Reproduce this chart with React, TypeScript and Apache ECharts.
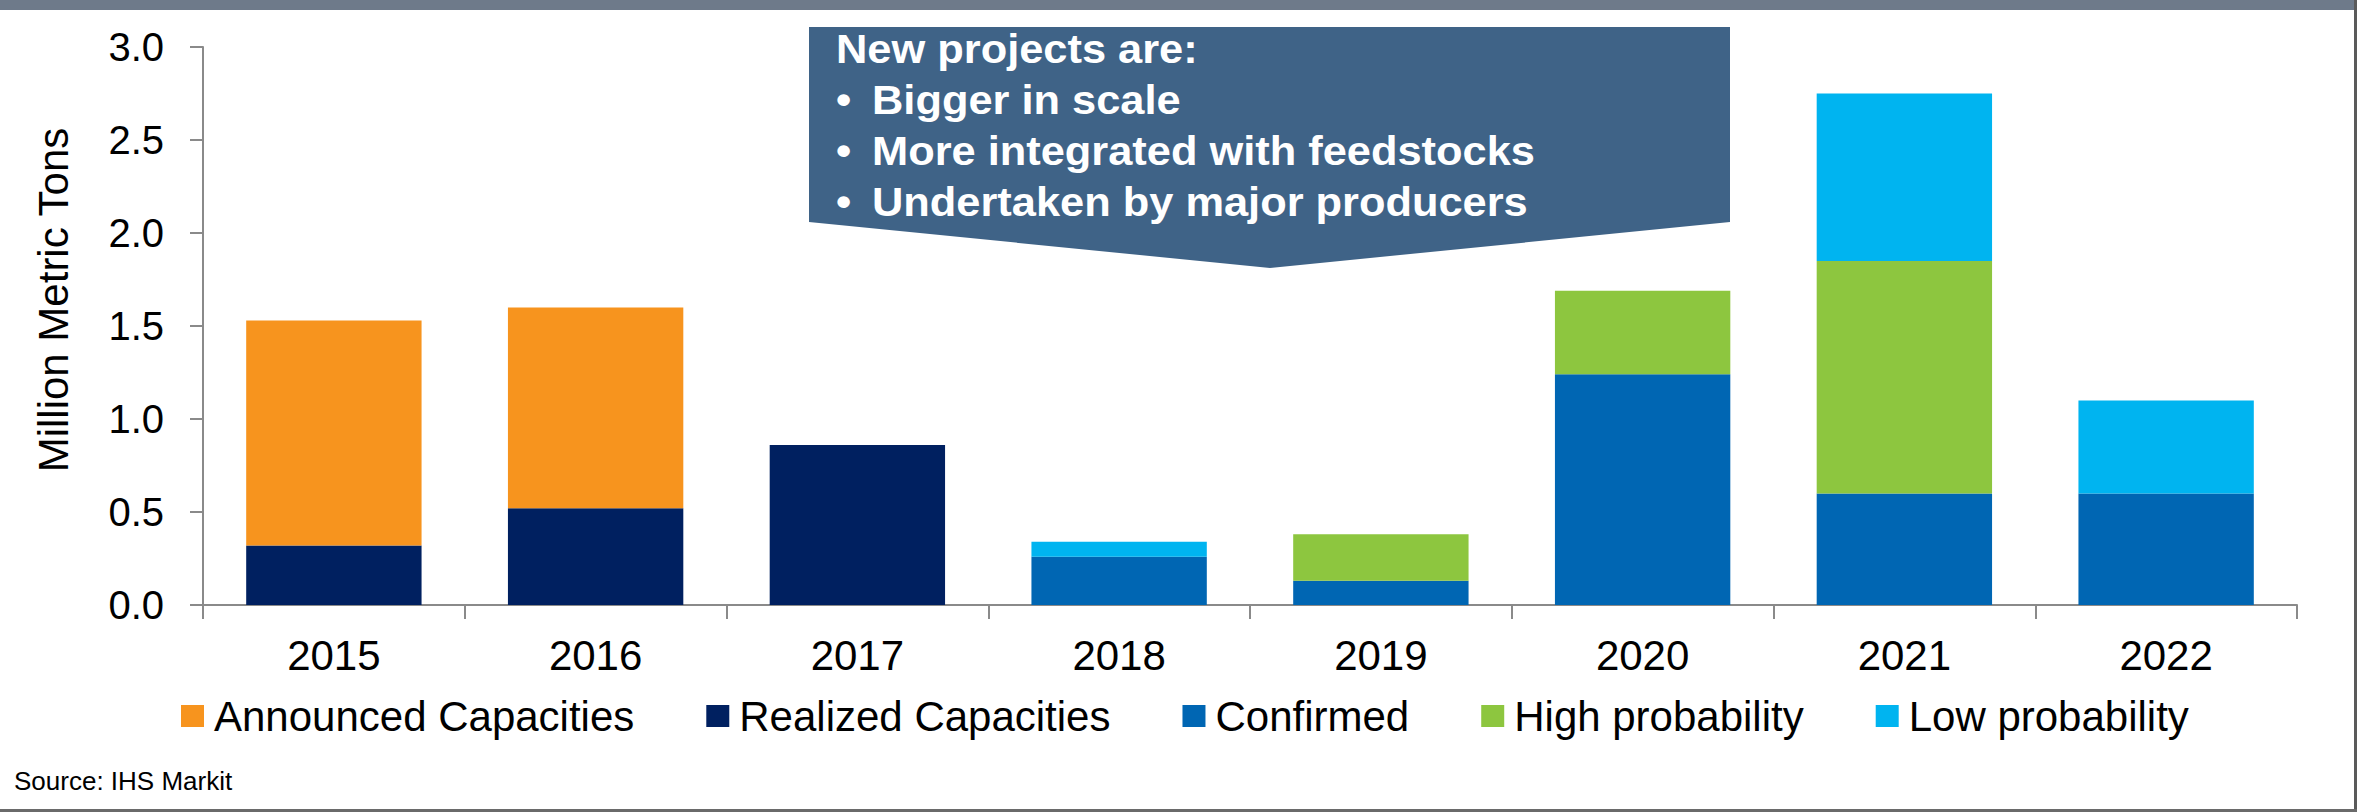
import React, { useEffect, useRef } from "react";
import * as echarts from "echarts";

const categories = ["2015", "2016", "2017", "2018", "2019", "2020", "2021", "2022"];
const announced = [1.21, 1.08, null, null, null, null, null, null];
const realized = [0.32, 0.52, 0.86, null, null, null, null, null];
const confirmed = [null, null, null, 0.26, 0.13, 1.24, 0.6, 0.6];
const highProb = [null, null, null, null, 0.25, 0.45, 1.25, null];
const lowProb = [null, null, null, 0.08, null, null, 0.9, 0.5];
const yTicks = { min: 0, max: 3, interval: 0.5 };
const legendOrder = ["Announced Capacities", "Realized Capacities", "Confirmed", "High probability", "Low probability"];
const calloutTitle = "New projects are:";
const calloutBullets = ["Bigger in scale", "More integrated with feedstocks", "Undertaken by major producers"];
const yTitle = "Million Metric Tons";
const sourceText = "Source: IHS Markit";

const FONT = "'Liberation Sans', Arial, sans-serif";

export default function App() {
  const ref = useRef<HTMLDivElement>(null);
  useEffect(() => {
    if (!ref.current) return;
    const chart = echarts.init(ref.current, null, { renderer: "svg" });
    const axisGray = "#8a8a8a";
    const barCommon = { type: "bar", stack: "total", barCategoryGap: "33%" };
    const bulletY = [100.5, 151, 202];
    const graphics: any[] = [
      { type: "rect", shape: { x: 0, y: 0, width: 2356, height: 10 }, style: { fill: "#6E7A8A" }, silent: true },
      { type: "rect", shape: { x: 2354, y: 0, width: 3, height: 812 }, style: { fill: "#5A5A5A" }, silent: true },
      { type: "rect", shape: { x: 0, y: 809, width: 2357, height: 3 }, style: { fill: "#6A6A6A" }, silent: true },
      {
        type: "polygon",
        shape: { points: [[809, 27], [1730, 27], [1730, 222], [1270, 268], [809, 222]] },
        style: { fill: "#3F6387" },
        silent: true,
      },
      {
        type: "text", x: 836, y: 49, scaleX: 1.085,
        style: { text: calloutTitle, fill: "#ffffff", font: `bold 40px ${FONT}`, align: "left", verticalAlign: "middle" },
      },
      ...calloutBullets.flatMap((t, i) => [
        {
          type: "text", x: 836, y: bulletY[i], scaleX: 1.085,
          style: { text: "•", fill: "#ffffff", font: `bold 40px ${FONT}`, align: "left", verticalAlign: "middle" },
        },
        {
          type: "text", x: 872, y: bulletY[i], scaleX: 1.085,
          style: { text: t, fill: "#ffffff", font: `bold 40px ${FONT}`, align: "left", verticalAlign: "middle" },
        },
      ]),
      {
        type: "text", x: 53, y: 300, rotation: Math.PI / 2,
        style: { text: yTitle, fill: "#000000", font: `42px ${FONT}`, align: "center", verticalAlign: "middle" },
      },
      {
        type: "text", x: 14, y: 781,
        style: { text: sourceText, fill: "#000000", font: `26px ${FONT}`, align: "left", verticalAlign: "middle" },
      },
    ];

    chart.setOption({
      animation: false,
      backgroundColor: "#ffffff",
      textStyle: { fontFamily: FONT },
      grid: { left: 203, right: 65, top: 47, bottom: 207, containLabel: false },
      legend: {
        data: legendOrder,
        left: 176,
        top: 690,
        icon: "rect",
        itemWidth: 23,
        itemHeight: 22,
        itemGap: 72,
        textStyle: { fontSize: 42, color: "#000000", fontFamily: FONT, padding: [0, 0, 0, 5] },
        selectedMode: false,
      },
      xAxis: {
        type: "category",
        data: categories,
        axisLine: { show: true, lineStyle: { color: axisGray, width: 2 } },
        axisTick: { show: true, length: 14, alignWithLabel: false, lineStyle: { color: axisGray, width: 2 } },
        axisLabel: { fontSize: 42, color: "#000000", margin: 29, fontFamily: FONT },
        splitLine: { show: false },
      },
      yAxis: {
        type: "value",
        min: yTicks.min,
        max: yTicks.max,
        interval: yTicks.interval,
        axisLine: { show: true, lineStyle: { color: axisGray, width: 2 } },
        axisTick: { show: true, length: 13, lineStyle: { color: axisGray, width: 2 } },
        axisLabel: { fontSize: 40, color: "#000000", margin: 39, fontFamily: FONT, formatter: (v: number) => v.toFixed(1) },
        splitLine: { show: false },
      },
      series: [
        { ...barCommon, name: "Realized Capacities", data: realized, itemStyle: { color: "#002060" } },
        { ...barCommon, name: "Announced Capacities", data: announced, itemStyle: { color: "#F7941E" } },
        { ...barCommon, name: "Confirmed", data: confirmed, itemStyle: { color: "#0066B3" } },
        { ...barCommon, name: "High probability", data: highProb, itemStyle: { color: "#8DC63F" } },
        { ...barCommon, name: "Low probability", data: lowProb, itemStyle: { color: "#00B4F0" } },
      ],
      graphic: graphics,
    });
    return () => chart.dispose();
  }, []);
  return (
    <div
      ref={ref}
      style={{ position: "absolute", left: 0, top: 0, width: 2362, height: 812, background: "#fff" }}
    />
  );
}
